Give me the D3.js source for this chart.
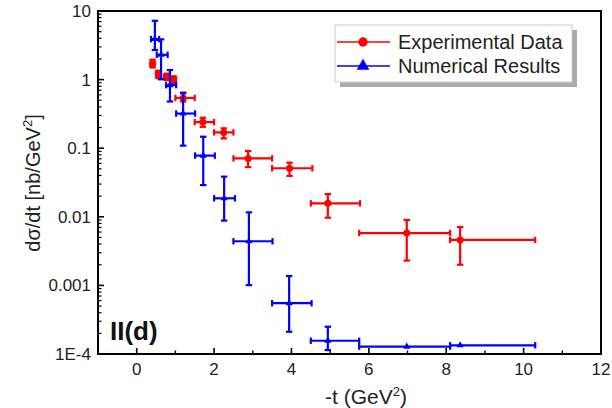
<!DOCTYPE html>
<html>
<head>
<meta charset="utf-8">
<script src="https://cdn.jsdelivr.net/npm/d3@7"></script>
<style>
  body { margin: 0; background: #fff; }
  svg text { font-family: "Liberation Sans", Arial, sans-serif; }
</style>
</head>
<body>
<div id="chart"></div>
<script>
// experimental data (red)
var expT    = [0.41, 0.56, 0.78, 0.95, 1.2, 1.71, 2.25, 2.88, 3.95, 4.94, 6.98, 8.36];
var expY    = [1.7, 1.2, 1.1, 1.0, 0.54, 0.24, 0.17, 0.071, 0.051, 0.0157, 0.0058, 0.0046];
var expTLo  = [0.36, 0.5, 0.7, 0.88, 1.0, 1.5, 2.0, 2.5, 3.5, 4.5, 5.75, 8.1];
var expTHi  = [0.46, 0.62, 0.86, 1.02, 1.5, 2.0, 2.5, 3.5, 4.54, 5.77, 8.1, 10.3];
var expYLo  = [1.5, 1.05, 0.98, 0.88, 0.48, 0.205, 0.139, 0.053, 0.0394, 0.0097, 0.0023, 0.002];
var expYHi  = [1.95, 1.35, 1.22, 1.12, 0.63, 0.278, 0.195, 0.091, 0.0615, 0.0215, 0.009, 0.0071];

// numerical results (blue)
var numT    = [0.47, 0.63, 0.86, 1.2, 1.72, 2.26, 2.9, 3.94, 4.94, 6.98, 8.36];
var numY    = [3.9, 2.3, 0.83, 0.32, 0.078, 0.0186, 0.0044, 0.00055, 0.000156, 0.000128, 0.000134];
var numTLo  = [0.37, 0.52, 0.76, 1.02, 1.51, 2.0, 2.5, 3.5, 4.5, 5.75, 8.1];
var numTHi  = [0.58, 0.8, 1.02, 1.51, 2.02, 2.54, 3.51, 4.52, 5.75, 8.1, 10.3];
var numYLo  = [2.7, 1.01, 0.48, 0.109, 0.029, 0.0088, 0.00101, 0.000211, 0.000114, 0.000128, 0.000134];
var numYHi  = [7.2, 3.86, 1.38, 0.645, 0.147, 0.0385, 0.0116, 0.00137, 0.00025, 0.000128, 0.000134];

var xTicks = [0, 2, 4, 6, 8, 10, 12];
var xMinor = [1, 3, 5, 7, 9, 11];
var yTicks = [1e-4, 1e-3, 1e-2, 1e-1, 1, 10];
var yTickLabels = ["1E-4", "0.001", "0.01", "0.1", "1", "10"];

var width = 612, height = 408;
var plotL = 98, plotR = 601, plotT = 11, plotB = 354;

var x = d3.scaleLinear().domain([-1, 12]).range([plotL, plotR]);
var y = d3.scaleLog().domain([1e-4, 10]).range([plotB, plotT]);

var svg = d3.select('#chart').append('svg')
    .attr('width', width)
    .attr('height', height);

// minor y ticks 2..9 per decade
var yMinor = [];
for (var d = 0; d < 5; d++) {
    for (var k = 2; k <= 9; k++) yMinor.push(yTicks[d] * k);
}

var axes = svg.append('g').attr('stroke', '#000');
axes.selectAll('line.ymaj').data(yTicks).enter().append('line')
    .attr('x1', plotL).attr('x2', plotL + 6)
    .attr('y1', function(d) { return y(d); }).attr('y2', function(d) { return y(d); })
    .attr('stroke-width', 1.6);
axes.selectAll('line.ymin').data(yMinor).enter().append('line')
    .attr('x1', plotL).attr('x2', plotL + 3.5)
    .attr('y1', function(d) { return y(d); }).attr('y2', function(d) { return y(d); })
    .attr('stroke-width', 1.2);
axes.selectAll('line.xmaj').data(xTicks).enter().append('line')
    .attr('x1', function(d) { return x(d); }).attr('x2', function(d) { return x(d); })
    .attr('y1', plotB).attr('y2', plotB - 6)
    .attr('stroke-width', 1.6);
axes.selectAll('line.xmin').data(xMinor).enter().append('line')
    .attr('x1', function(d) { return x(d); }).attr('x2', function(d) { return x(d); })
    .attr('y1', plotB).attr('y2', plotB - 3.5)
    .attr('stroke-width', 1.4);

// tick labels
svg.selectAll('text.ylab').data(yTicks).enter().append('text')
    .attr('x', plotL - 7)
    .attr('y', function(d) { return y(d) + 6; })
    .attr('text-anchor', 'end')
    .style('font-size', '17px')
    .attr('fill', '#222')
    .text(function(d, i) { return yTickLabels[i]; });
svg.selectAll('text.xlab').data(xTicks).enter().append('text')
    .attr('x', function(d) { return x(d); })
    .attr('y', 375)
    .attr('text-anchor', 'middle')
    .style('font-size', '17px')
    .attr('fill', '#222')
    .text(function(d) { return d; });

// axis titles
var xt = svg.append('text')
    .attr('x', 366).attr('y', 404)
    .attr('text-anchor', 'middle')
    .style('font-size', '21px')
    .attr('fill', '#222');
xt.append('tspan').text('-t (GeV');
xt.append('tspan').attr('dy', -8).style('font-size', '13px').text('2');
xt.append('tspan').attr('dy', 8).text(')');

var yt = svg.append('text')
    .attr('transform', 'translate(40,' + 183 + ') rotate(-90)')
    .attr('text-anchor', 'middle')
    .style('font-size', '20px')
    .attr('fill', '#222');
yt.append('tspan').text('d\u03c3/dt [nb/GeV');
yt.append('tspan').attr('dy', -8).style('font-size', '13px').text('2');
yt.append('tspan').attr('dy', 8).text(']');

// error bars
function drawSeries(ts, vs, tlo, thi, vlo, vhi, color, cls) {
    var rows = ts.map(function(t, i) {
        return {t: t, v: vs[i], tlo: tlo[i], thi: thi[i], vlo: vlo[i], vhi: vhi[i]};
    });
    var g = svg.append('g').attr('class', cls)
        .attr('stroke', color).attr('stroke-width', 2.2).attr('fill', color);
    var cap = 3.2;
    rows.forEach(function(r) {
        var cx = x(r.t), cy = y(r.v);
        g.append('line').attr('x1', x(r.tlo)).attr('x2', x(r.thi)).attr('y1', cy).attr('y2', cy);
        g.append('line').attr('x1', x(r.tlo)).attr('x2', x(r.tlo)).attr('y1', cy - cap).attr('y2', cy + cap);
        g.append('line').attr('x1', x(r.thi)).attr('x2', x(r.thi)).attr('y1', cy - cap).attr('y2', cy + cap);
        if (r.vhi > r.vlo) {
            g.append('line').attr('x1', cx).attr('x2', cx).attr('y1', y(r.vhi)).attr('y2', y(r.vlo));
            g.append('line').attr('x1', cx - cap).attr('x2', cx + cap).attr('y1', y(r.vhi)).attr('y2', y(r.vhi));
            g.append('line').attr('x1', cx - cap).attr('x2', cx + cap).attr('y1', y(r.vlo)).attr('y2', y(r.vlo));
        }
    });
    return {g: g, rows: rows};
}

var red = drawSeries(expT, expY, expTLo, expTHi, expYLo, expYHi, '#ff0000', 'exp');
red.g.selectAll('circle').data(red.rows).enter().append('circle')
    .attr('cx', function(d) { return x(d.t); })
    .attr('cy', function(d) { return y(d.v); })
    .attr('r', 3.5).attr('stroke', 'none');

var blue = drawSeries(numT, numY, numTLo, numTHi, numYLo, numYHi, '#0000ff', 'num');
blue.g.selectAll('path.m').data(blue.rows).enter().append('path')
    .attr('d', d3.symbol().type(d3.symbolTriangle).size(22))
    .attr('transform', function(d) { return 'translate(' + x(d.t) + ',' + y(d.v) + ')'; })
    .attr('stroke', 'none');

// frame
svg.append('rect')
    .attr('x', plotL).attr('y', plotT)
    .attr('width', plotR - plotL).attr('height', plotB - plotT)
    .attr('fill', 'none').attr('stroke', '#000').attr('stroke-width', 2);

// panel label
svg.append('text')
    .attr('x', 110).attr('y', 340)
    .style('font-size', '26px').style('font-weight', 'bold')
    .attr('fill', '#111')
    .text('II(d)');

// legend
var lg = svg.append('g').attr('transform', 'translate(335,25)');
lg.append('rect').attr('x', 5).attr('y', 5).attr('width', 237).attr('height', 57).attr('fill', '#aaa');
lg.append('rect').attr('x', 0).attr('y', 0).attr('width', 237).attr('height', 57)
    .attr('fill', '#fff').attr('stroke', '#ccc').attr('stroke-width', 1);
var legItems = [
    {label: 'Experimental Data', color: '#ff0000', sym: d3.symbolCircle},
    {label: 'Numerical Results', color: '#0000ff', sym: d3.symbolTriangle}
];
legItems.forEach(function(it, i) {
    var ly = 17 + i * 24;
    lg.append('line').attr('x1', 2).attr('x2', 55).attr('y1', ly).attr('y2', ly)
        .attr('stroke', it.color).attr('stroke-width', 1.6);
    lg.append('path').attr('d', d3.symbol().type(it.sym).size(70))
        .attr('transform', 'translate(28,' + ly + ')').attr('fill', it.color);
    lg.append('text').attr('x', 63).attr('y', ly + 7)
        .style('font-size', '20px').attr('fill', '#222').text(it.label);
});
</script>
</body>
</html>
